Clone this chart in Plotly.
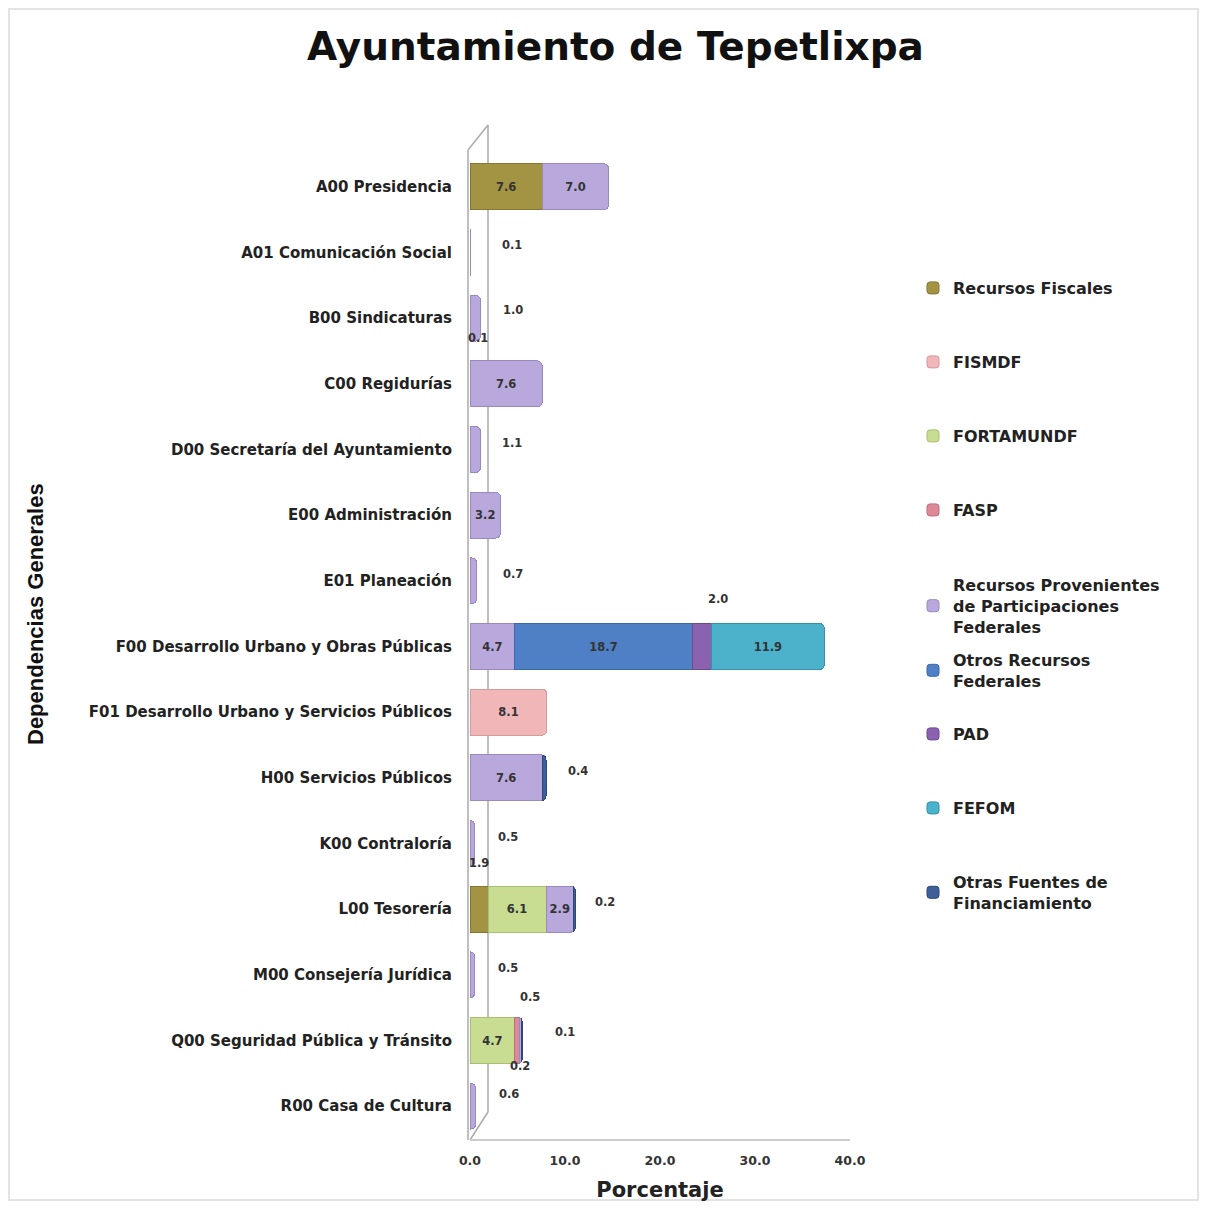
import plotly.graph_objects as go

# ---------------- data ----------------
categories = [
    "A00 Presidencia",
    "A01 Comunicación Social",
    "B00 Sindicaturas",
    "C00 Regidurías",
    "D00 Secretaría del Ayuntamiento",
    "E00 Administración",
    "E01 Planeación",
    "F00 Desarrollo Urbano y Obras Públicas",
    "F01 Desarrollo Urbano y Servicios Públicos",
    "H00 Servicios Públicos",
    "K00 Contraloría",
    "L00 Tesorería",
    "M00 Consejería Jurídica",
    "Q00 Seguridad Pública y Tránsito",
    "R00 Casa de Cultura",
]

recursos_fiscales = [7.6, None, 0.1, None, None, None, None, None, None, None, None, 1.9, None, None, None]
fismdf            = [None, None, None, None, None, None, None, None, 8.1, None, None, None, None, None, None]
fortamundf        = [None, None, None, None, None, None, None, None, None, None, None, 6.1, None, 4.7, None]
fasp              = [None, None, None, None, None, None, None, None, None, None, None, None, None, 0.5, None]
participaciones   = [7.0, 0.1, 1.0, 7.6, 1.1, 3.2, 0.7, 4.7, None, 7.6, 0.5, 2.9, 0.5, 0.2, 0.6]
otros_federales   = [None, None, None, None, None, None, None, 18.7, None, None, None, None, None, None, None]
pad               = [None, None, None, None, None, None, None, 2.0, None, None, None, None, None, None, None]
fefom             = [None, None, None, None, None, None, None, 11.9, None, None, None, None, None, None, None]
otras_fuentes     = [None, None, None, None, None, None, None, None, None, 0.4, None, 0.2, None, 0.1, None]

series_names = [
    "Recursos Fiscales",
    "FISMDF",
    "FORTAMUNDF",
    "FASP",
    "Recursos Provenientes<br>de Participaciones<br>Federales",
    "Otros Recursos<br>Federales",
    "PAD",
    "FEFOM",
    "Otras Fuentes de<br>Financiamiento",
]
series_values = [recursos_fiscales, fismdf, fortamundf, fasp, participaciones,
                 otros_federales, pad, fefom, otras_fuentes]

x_ticks = [0, 10, 20, 30, 40]

# ---------------- style ----------------
colors = ["#a39443", "#f0b6b8", "#c8dc92", "#dc8a98", "#b8a8dc",
          "#4f80c6", "#8a62b0", "#4cb2cc", "#3e5f98"]
line_colors = ["#857632", "#d49a9c", "#a9bf72", "#bf6e7c", "#9a89c0",
               "#3d68a8", "#6e4a92", "#3692ac", "#2c4878"]

# page offset of the figure (body margin) and plot area in page pixels
OFF = 8
W, H = 1192, 1194
L, T = 470 - OFF, 154 - OFF
PW, PH = 380, 985
R, B = W - L - PW, H - T - PH


def px_x(x):  # page pixel -> paper
    return (x - OFF - L) / PW


def px_y(y):
    return (T + PH - (y - OFF)) / PH


FONT = "DejaVu Sans, Liberation Sans, Arial, sans-serif"

# legend item first-line centre positions (page px)
legend_centers = [288, 362, 436, 510, 585, 660, 734, 808, 882]

fig = go.Figure()
for i, (name, vals) in enumerate(zip(series_names, series_values)):
    txt = [f"{v:.1f}" if (v is not None and v >= 2.5) else "" for v in vals]
    fig.add_trace(go.Bar(
        y=categories, x=vals, name=name, orientation="h",
        marker=dict(color=colors[i], line=dict(color=line_colors[i], width=1),
                    cornerradius=5),
        text=txt, textposition="inside", insidetextanchor="middle",
        textangle=0, constraintext="none",
        insidetextfont=dict(family=FONT, size=11.5, color="#333333", weight="bold"),
        legend="legend" if i == 0 else f"legend{i + 1}",
        hovertemplate="%{y}: %{x:.1f}<extra>" + name.replace("<br>", " ") + "</extra>",
    ))

# ---------- labels for small segments ----------
# (category index, series index): (anchor, xshift px, yshift px)
small_label_style = {
    (1, 4): ("end", 41, 8),
    (2, 4): ("end", 33, 8),
    (2, 0): ("mid", 8, -20),
    (4, 4): ("end", 32, 7),
    (6, 4): ("end", 36, 7),
    (7, 6): ("mid", 16, 48),
    (9, 8): ("end", 32, 7),
    (10, 4): ("end", 33, 7),
    (11, 0): ("mid", 0, 46),
    (11, 8): ("end", 30, 7),
    (12, 4): ("end", 33, 7),
    (13, 3): ("mid", 13, 44),
    (13, 4): ("mid", 0, -25),
    (13, 8): ("end", 43, 9),
    (14, 4): ("end", 33, 12),
}

annotations = []
for (ci, si), (anchor, dx, dy) in small_label_style.items():
    start = sum(series_values[k][ci] or 0 for k in range(si))
    v = series_values[si][ci]
    xpos = start + v if anchor == "end" else start + v / 2
    annotations.append(dict(
        x=xpos, y=categories[ci], xref="x", yref="y", text=f"{v:.1f}",
        showarrow=False, xanchor="center", yanchor="middle",
        xshift=dx, yshift=dy,
        font=dict(family=FONT, size=11.5, color="#333333", weight="bold"),
    ))

# title
annotations.append(dict(
    x=px_x(615), y=px_y(46), xref="paper", yref="paper",
    text="Ayuntamiento de Tepetlixpa", showarrow=False,
    xanchor="center", yanchor="middle",
    font=dict(family=FONT, size=39, color="#111111", weight="bold"),
))
# y-axis title
annotations.append(dict(
    x=px_x(35), y=px_y(614), xref="paper", yref="paper",
    text="Dependencias Generales", showarrow=False, textangle=-90,
    xanchor="center", yanchor="middle",
    font=dict(family="Liberation Sans Narrow, Liberation Sans, Arial Narrow, sans-serif",
              size=22, color="#111111", weight="bold"),
))

# ---------- 3D wall decoration ----------
wall = "#aaaaaa"
shapes = [
    dict(type="line", xref="paper", yref="paper", layer="below",
         x0=px_x(468), y0=px_y(150), x1=px_x(468), y1=px_y(1140),
         line=dict(color=wall, width=1.5)),
    dict(type="line", xref="paper", yref="paper", layer="below",
         x0=px_x(468), y0=px_y(150), x1=px_x(488), y1=px_y(125),
         line=dict(color=wall, width=1.5)),
    dict(type="line", xref="paper", yref="paper", layer="below",
         x0=px_x(488), y0=px_y(125), x1=px_x(488), y1=px_y(1112),
         line=dict(color=wall, width=1.5)),
    dict(type="line", xref="paper", yref="paper", layer="below",
         x0=px_x(488), y0=px_y(1112), x1=px_x(470), y1=px_y(1140),
         line=dict(color=wall, width=1.5)),
    # outer frame
    dict(type="rect", xref="paper", yref="paper", layer="below",
         x0=px_x(9), y0=px_y(9), x1=px_x(1198), y1=px_y(1200),
         line=dict(color="#e3e3e3", width=2)),
]

# ---------- legends (one per series, positioned individually) ----------
legend_layouts = {}
for i, c in enumerate(legend_centers):
    key = "legend" if i == 0 else f"legend{i + 1}"
    legend_layouts[key] = dict(
        x=px_x(913), y=px_y(c - 17), xanchor="left", yanchor="top",
        bgcolor="rgba(0,0,0,0)", itemwidth=30,
        font=dict(family=FONT, size=16, color="#222222", weight="bold"),
        tracegroupgap=0,
    )

fig.update_layout(
    width=W, height=H,
    margin=dict(l=L, r=R, t=T, b=B, autoexpand=False),
    paper_bgcolor="white", plot_bgcolor="white",
    barmode="stack", bargap=0.3,
    showlegend=True,
    xaxis=dict(
        range=[0, 40], tickvals=x_ticks, tickformat=".1f",
        showgrid=False, zeroline=False, showline=True, linecolor="#cccccc",
        linewidth=1.5, ticks="", ticklabelstandoff=9,
        tickfont=dict(family=FONT, size=12.5, color="#333333", weight="bold"),
        title=dict(text="Porcentaje", standoff=16,
                   font=dict(family=FONT, size=21, color="#222222", weight="bold")),
    ),
    yaxis=dict(
        categoryorder="array", categoryarray=categories, autorange="reversed",
        showgrid=False, zeroline=False, showline=False, ticks="",
        ticklabelstandoff=17,
        tickfont=dict(family=FONT, size=15, color="#222222", weight="bold"),
    ),
    annotations=annotations,
    shapes=shapes,
    **legend_layouts,
)

fig.write_html("out.html")
